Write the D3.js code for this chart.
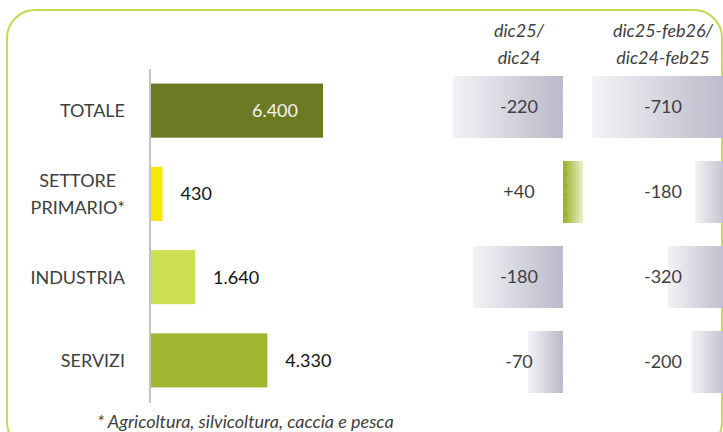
<!DOCTYPE html>
<html>
<head>
<meta charset="utf-8">
<script src="https://cdn.jsdelivr.net/npm/d3@7"></script>
<style>
  body { margin: 0; background: #fff; }
  text { font-family: Lato, "Open Sans", sans-serif; }
</style>
</head>
<body>
<div id="chart"></div>
<script>
var svgWidth = 723;
var svgHeight = 432;

// data
var categories = [["TOTALE"], ["SETTORE", "PRIMARIO*"], ["INDUSTRIA"], ["SERVIZI"]];
var occupati = [6400, 430, 1640, 4330];
var varMese = [-220, 40, -180, -70];
var varTrim = [-710, -180, -320, -200];
var headers = [["dic25/", "dic24"], ["dic25-feb26/", "dic24-feb25"]];
var barColors = ["#6c7a23", "#f6ea00", "#cde052", "#a2b530"];
var footnote = "* Agricoltura, silvicoltura, caccia e pesca";

var it = d3.formatLocale({ decimal: ",", thousands: ".", grouping: [3], currency: ["€", ""] });
var fmt = it.format(",d");
var fmtSign = it.format("+,d");

var svg = d3.select("#chart")
    .append("svg")
    .attr("width", svgWidth)
    .attr("height", svgHeight);

var defs = svg.append("defs");

var gGrey = defs.append("linearGradient").attr("id", "gradNeg");
gGrey.append("stop").attr("offset", "0%").attr("stop-color", "#f3f3f6");
gGrey.append("stop").attr("offset", "100%").attr("stop-color", "#b9b9c9");

var gGreen = defs.append("linearGradient").attr("id", "gradPos");
gGreen.append("stop").attr("offset", "0%").attr("stop-color", "#9aae28");
gGreen.append("stop").attr("offset", "100%").attr("stop-color", "#e8eec8");

// frame
svg.append("rect")
    .attr("x", 7)
    .attr("y", 10)
    .attr("width", 715)
    .attr("height", 440)
    .attr("rx", 28)
    .attr("fill", "none")
    .attr("stroke", "#c8da55")
    .attr("stroke-width", 2);

// left bar chart
var idx = d3.range(categories.length);

var yLeft = d3.scaleBand()
    .domain(idx)
    .range([69, 402])
    .paddingInner(0.35)
    .paddingOuter(0.175);

var xLeft = d3.scaleLinear()
    .domain([0, 6400])
    .range([151, 323]);

svg.selectAll("rect.bar")
    .data(occupati)
    .enter()
    .append("rect")
    .classed("bar", true)
    .attr("x", xLeft(0))
    .attr("y", (d, i) => yLeft(i))
    .attr("width", d => xLeft(d) - xLeft(0))
    .attr("height", yLeft.bandwidth())
    .attr("fill", (d, i) => barColors[i]);

svg.append("line")
    .attr("x1", 150).attr("x2", 150)
    .attr("y1", 69).attr("y2", 403)
    .attr("stroke", "#c4c4c4")
    .attr("stroke-width", 2);

svg.selectAll("text.val")
    .data(occupati)
    .enter()
    .append("text")
    .classed("val", true)
    .attr("x", (d, i) => i === 0 ? xLeft(d) - 25 : xLeft(d) + 18)
    .attr("y", (d, i) => yLeft(i) + yLeft.bandwidth() / 2)
    .attr("dy", "0.36em")
    .attr("text-anchor", (d, i) => i === 0 ? "end" : "start")
    .attr("fill", (d, i) => i === 0 ? "#f4f4f4" : "#111")
    .style("font-size", "18px")
    .text(d => fmt(d));

categories.forEach(function(lines, i) {
    var cy = yLeft(i) + yLeft.bandwidth() / 2;
    var g = svg.append("g");
    var t = g.selectAll("text")
        .data(lines)
        .enter()
        .append("text")
        .attr("y", (d, j) => cy + (j - (lines.length - 1) / 2) * 27)
        .attr("dy", "0.36em")
        .attr("fill", "#404040")
        .attr("text-anchor", "middle")
        .style("font-size", "18px")
        .text(d => d);
    var maxW = d3.max(t.nodes(), n => n.getComputedTextLength());
    t.attr("x", 125 - maxW / 2);
});

// right panels
var yRight = d3.scaleBand()
    .domain(idx)
    .range([64.5, 404.5])
    .paddingInner(0.27)
    .paddingOuter(0.135);

var panels = [
    { values: varMese, x: d3.scaleLinear().domain([-220, 40]).range([453, 583]), labelX: 519, head: headers[0] },
    { values: varTrim, x: d3.scaleLinear().domain([-710, 0]).range([592, 730]), labelX: 663, head: headers[1] }
];

panels.forEach(function(p) {
    var zero = p.x(0);
    var g = svg.append("g");

    g.selectAll("rect")
        .data(p.values)
        .enter()
        .append("rect")
        .attr("x", d => Math.min(p.x(d), zero))
        .attr("y", (d, i) => yRight(i))
        .attr("width", d => Math.abs(p.x(d) - zero))
        .attr("height", yRight.bandwidth())
        .attr("fill", d => d < 0 ? "url(#gradNeg)" : "url(#gradPos)");

    g.selectAll("line")
        .data(p.values)
        .enter()
        .append("line")
        .attr("x1", d => d < 0 ? zero : zero + 3)
        .attr("x2", d => d < 0 ? zero : zero + 3)
        .attr("y1", (d, i) => yRight(i) + 3)
        .attr("y2", (d, i) => yRight(i) + yRight.bandwidth())
        .attr("stroke", d => d < 0 ? "#e4e4ec" : "#8fa322")
        .attr("stroke-width", 1.2)
        .attr("stroke-dasharray", "2,8");

    g.selectAll("text.dv")
        .data(p.values)
        .enter()
        .append("text")
        .classed("dv", true)
        .attr("x", p.labelX)
        .attr("y", (d, i) => yRight(i) + yRight.bandwidth() / 2)
        .attr("dy", "0.36em")
        .attr("text-anchor", "middle")
        .attr("fill", "#404040")
        .style("font-size", "18px")
        .text(d => d < 0 ? fmt(d).replace("−", "-") : fmtSign(d));

    g.selectAll("text.hd")
        .data(p.head)
        .enter()
        .append("text")
        .classed("hd", true)
        .attr("x", p.labelX)
        .attr("y", (d, j) => 37 + j * 27)
        .attr("text-anchor", "middle")
        .attr("fill", "#404040")
        .style("font-size", "18px")
        .style("font-style", "italic")
        .text(d => d);
});

svg.append("text")
    .attr("x", 97)
    .attr("y", 428)
    .attr("fill", "#404040")
    .style("font-size", "18px")
    .style("font-style", "italic")
    .text(footnote);
</script>
</body>
</html>
